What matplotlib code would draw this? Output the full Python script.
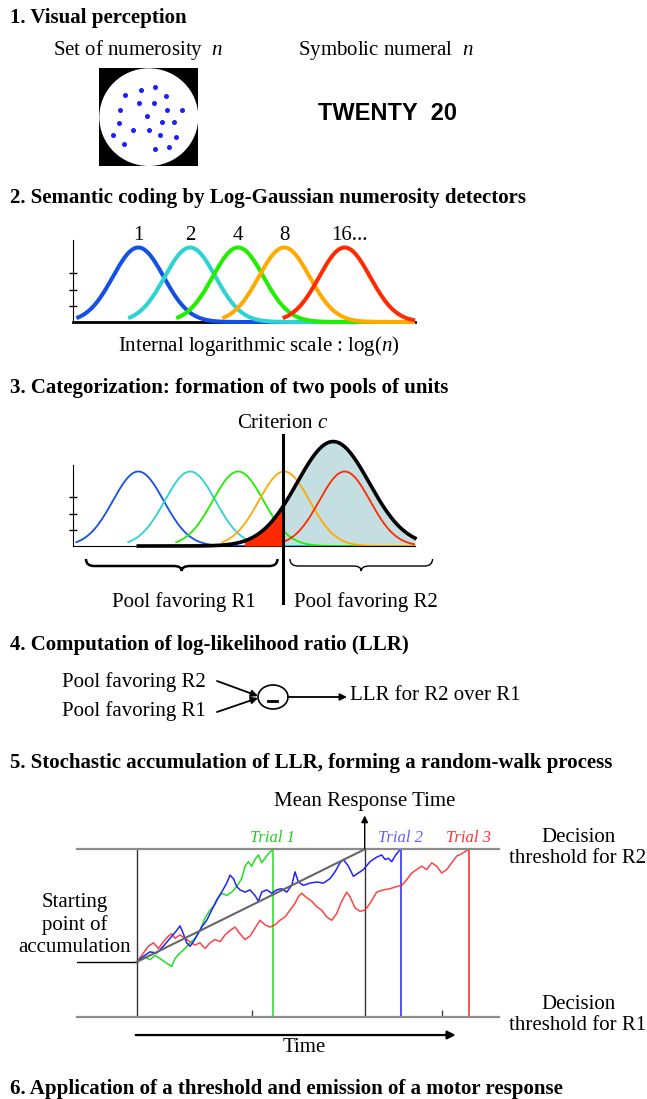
import numpy as np
import matplotlib.pyplot as plt
from matplotlib.patches import Ellipse, PathPatch
from matplotlib.path import Path
from matplotlib.transforms import blended_transform_factory

plt.rcParams['font.family'] = ['Liberation Serif', 'DejaVu Serif']
plt.rcParams['mathtext.fontset'] = 'custom'
plt.rcParams['mathtext.rm'] = 'Liberation Serif'
plt.rcParams['mathtext.it'] = 'Liberation Serif:italic'

W, H = 647, 1099
FS = 15

# panel 1: dots of the numerosity display (percent of the stimulus box)
dot_x = [56.3, 42.1, 26.3, 67.7, 40.4, 54.9, 21.2, 68.4, 83.8, 48.5, 20.2,
         63.3, 75.8, 34.3, 50.2, 13.8, 61.0, 77.2, 25.3, 56.3, 70.4]
dot_y = [81.2, 78.2, 73.1, 71.7, 64.2, 64.6, 57.5, 57.1, 57.1, 50.7, 43.7,
         45.0, 44.7, 36.8, 36.5, 31.7, 31.7, 29.7, 22.2, 17.1, 19.1]

# panels 2-3: log-gaussian detectors on the internal log scale
det_labels = ['1', '2', '4', '8', '16...']
det_centers = [0.0, 1.08, 2.08, 3.04, 4.3]
det_colors = ['#1450e6', '#2dd2d2', '#22ee00', '#ffaa00', '#ff2a00']
det_sigma = 0.53
det_peak = 0.92
det_span = 1.29          # how far left of its peak each curve starts
scale_max = 5.765
criterion = 3.02
r2_center, r2_sigma, r2_peak = 4.06, 0.75, 1.29

# panel 5: random walks of accumulated LLR (0 = start, 1 = upper threshold)
lower_bound = -0.488
rt_mean = 22.8
trial_rt = [13.6, 26.4, 33.2]
trial_colors = ['#22dd22', '#2222ff', '#ff2222']
label_colors = ['#22cc22', '#6060ff', '#ff3030']
t1_t = [0, 0.67, 1.33, 1.83, 2.5, 3.0, 3.5, 3.83, 4.33, 4.83, 5.33, 5.83, 6.33,
        6.83, 7.33, 7.83, 8.17, 8.5, 9.0, 9.5, 10.0, 10.5, 10.83, 11.17, 11.5,
        11.83, 12.17, 12.5, 12.83, 13.17, 13.6]
t1_e = [0, 0.05, 0.02, 0.06, 0.02, -0.01, -0.04, 0.03, 0.08, 0.12, 0.17, 0.21,
        0.28, 0.39, 0.46, 0.51, 0.57, 0.61, 0.59, 0.62, 0.67, 0.74, 0.85, 0.89,
        0.85, 0.91, 0.95, 0.88, 0.92, 0.96, 1.0]
t2_t = [0, 0.67, 1.33, 2.0, 2.67, 3.33, 4.0, 4.33, 4.67, 5.0, 5.33, 5.67, 6.0,
        6.5, 7.0, 7.5, 8.0, 8.5, 9.0, 9.33, 9.67, 10.0, 10.33, 10.83, 11.33,
        11.83, 12.17, 12.5, 13.0, 13.5, 14.0, 14.5, 15.0, 15.5, 15.83, 16.17,
        16.67, 17.33, 18.0, 18.67, 19.33, 19.83, 20.33, 20.67, 21.17, 21.67,
        22.17, 22.67, 23.33, 24.0, 24.5, 24.83, 25.17, 25.5, 25.83, 26.17, 26.4]
t2_e = [0, 0.05, 0.09, 0.08, 0.14, 0.21, 0.28, 0.32, 0.25, 0.17, 0.14, 0.18,
        0.23, 0.31, 0.37, 0.46, 0.55, 0.62, 0.70, 0.77, 0.74, 0.67, 0.64, 0.62,
        0.64, 0.59, 0.54, 0.62, 0.64, 0.61, 0.64, 0.65, 0.62, 0.68, 0.80, 0.71,
        0.68, 0.70, 0.71, 0.70, 0.74, 0.80, 0.88, 0.91, 0.85, 0.76, 0.79, 0.82,
        0.89, 0.93, 0.95, 0.91, 0.92, 0.89, 0.94, 0.98, 1.0]
t3_t = [0, 0.67, 1.17, 1.67, 2.17, 2.67, 3.17, 3.5, 3.83, 4.33, 4.83, 5.33,
        5.83, 6.33, 6.83, 7.33, 7.83, 8.33, 8.83, 9.33, 9.83, 10.33, 10.83,
        11.33, 11.83, 12.33, 12.83, 13.33, 13.83, 14.33, 14.83, 15.33, 15.83,
        16.17, 16.5, 17.0, 17.5, 18.0, 18.5, 19.0, 19.5, 20.0, 20.5, 21.0,
        21.33, 21.83, 22.33, 22.83, 23.33, 24.0, 24.67, 25.33, 26.0, 26.5,
        27.0, 27.5, 28.0, 28.5, 29.0, 29.5, 30.0, 30.5, 31.0, 31.5, 32.0, 32.5,
        32.83, 33.2]
t3_e = [0, 0.08, 0.14, 0.17, 0.12, 0.18, 0.23, 0.25, 0.21, 0.24, 0.21, 0.18,
        0.15, 0.17, 0.12, 0.17, 0.20, 0.18, 0.24, 0.28, 0.31, 0.25, 0.20, 0.23,
        0.30, 0.37, 0.33, 0.31, 0.33, 0.37, 0.40, 0.46, 0.52, 0.58, 0.61, 0.57,
        0.54, 0.49, 0.46, 0.40, 0.37, 0.43, 0.54, 0.62, 0.58, 0.48, 0.45, 0.46,
        0.52, 0.62, 0.64, 0.65, 0.67, 0.68, 0.73, 0.79, 0.82, 0.85, 0.82, 0.88,
        0.85, 0.79, 0.82, 0.88, 0.94, 0.96, 0.98, 1.0]
time_ticks = [11.5, 30.5]

titles = ['1. Visual perception',
          '2. Semantic coding by Log-Gaussian numerosity detectors',
          '3. Categorization: formation of two pools of units',
          '4. Computation of log-likelihood ratio (LLR)',
          '5. Stochastic accumulation of LLR, forming a random-walk process',
          '6. Application of a threshold and emission of a motor response']
title_y = [18, 198, 388, 645, 763, 1089]


def box(left, top, right, bottom):
    return [left / W, 1 - bottom / H, (right - left) / W, (bottom - top) / H]


def gauss(x, c, s, a):
    return a * np.exp(-(x - c) ** 2 / (2 * s ** 2))


def brace(ax, trans, x0, x1, y0, y1, q, lw):
    xc = (x0 + x1) / 2
    ym = (y0 + y1) / 2 + 1
    verts = [(x0, y0), (x0, ym), (x0 + q, ym), (xc - q, ym), (xc, ym),
             (xc, y1), (xc, ym), (xc + q, ym), (x1 - q, ym), (x1, ym),
             (x1, y0)]
    codes = [Path.MOVETO, Path.CURVE3, Path.CURVE3, Path.LINETO, Path.CURVE3,
             Path.CURVE3, Path.CURVE3, Path.CURVE3, Path.LINETO, Path.CURVE3,
             Path.CURVE3]
    ax.add_patch(PathPatch(Path(verts, codes), fc='none', ec='black', lw=lw,
                           transform=trans, clip_on=False))


fig = plt.figure(figsize=(W / 100, H / 100), dpi=100)
ov = fig.add_axes([0, 0, 1, 1])
ov.set_xlim(0, W)
ov.set_ylim(H, 0)
ov.axis('off')

for t, y in zip(titles, title_y):
    ov.text(10, y, t, fontsize=FS, fontweight='bold', va='center')

# ---- 1. visual perception
ov.text(138, 50, 'Set of numerosity  $n$', fontsize=FS, ha='center', va='center')
ov.text(386, 50, 'Symbolic numeral  $n$', fontsize=FS, ha='center', va='center')
ov.text(388, 113, 'TWENTY  20', fontsize=17, fontweight='bold',
        family='Liberation Sans', ha='center', va='center')
ax1 = fig.add_axes(box(99.3, 68.3, 198.3, 166))
ax1.set_facecolor('black')
ax1.set_xlim(0, 100)
ax1.set_ylim(0, 100)
ax1.set_xticks([])
ax1.set_yticks([])
for s in ax1.spines.values():
    s.set_visible(False)
ax1.add_patch(Ellipse((50, 50), 100, 100, fc='white', ec='none'))
ax1.scatter(dot_x, dot_y, s=13, color='#1e1eff', lw=0, zorder=3)


def detector_axes(top, bottom):
    ax = fig.add_axes(box(73.3, top, 415, bottom))
    ax.patch.set_alpha(0)
    ax.set_xlim(-1.354, scale_max)
    ax.set_ylim(0, (bottom - top) / 74.5 * det_peak)
    for k in ['top', 'right']:
        ax.spines[k].set_visible(False)
    ax.set_xticks([])
    ax.set_yticks([0.2, 0.4, 0.6])
    ax.tick_params(axis='y', direction='inout', length=6, width=1,
                   labelleft=False)
    return ax


# ---- 2. semantic coding
ax2 = detector_axes(240, 322)
ax2.spines['bottom'].set_linewidth(2)
tr2 = blended_transform_factory(ax2.transData, ov.transData)
for lab, c, col in zip(det_labels, det_centers, det_colors):
    x = np.linspace(max(c - det_span, -1.32), scale_max, 300)
    ax2.plot(x, gauss(x, c, det_sigma, det_peak), color=col, lw=2.9,
             zorder=3, clip_on=False, solid_capstyle='butt')
    ax2.text(c + (0.1 if lab.endswith('...') else 0), 235, lab, fontsize=FS,
             ha='center', va='center', transform=tr2)
ov.text(259, 346, 'Internal logarithmic scale : log($n$)', fontsize=FS,
        ha='center', va='center')

# ---- 3. categorization
ax3 = detector_axes(465, 546)
tr3 = blended_transform_factory(ax3.transData, ov.transData)
xb = np.linspace(0, scale_max, 500)
yb = gauss(xb, r2_center, r2_sigma, r2_peak)
right = xb >= criterion
ax3.fill_between(xb[right], 0, yb[right], color='#c4dee1', lw=0, zorder=1,
                 clip_on=False)
for c, col in zip(det_centers, det_colors):
    x = np.linspace(c - det_span, scale_max, 300)
    ax3.plot(x, gauss(x, c, det_sigma, det_peak), color=col, lw=1.3, zorder=2)
red = (xb >= 2.2) & (xb <= criterion)
ax3.fill_between(xb[red], 0, yb[red], color='#ff2a00', lw=0, zorder=3)
ax3.plot(xb, yb, color='black', lw=2.6, zorder=4, clip_on=False)
ax3.plot([criterion, criterion], [435, 603], color='black', lw=2.2,
         transform=tr3, clip_on=False, zorder=5)
ax3.text(criterion, 424, 'Criterion $c$', fontsize=FS, ha='center',
         va='center', transform=tr3)
brace(ax3, tr3, -1.09, criterion - 0.12, 559, 571, 0.17, 1.8)
brace(ax3, tr3, criterion + 0.14, 6.13, 559, 571, 0.17, 1.0)
ax3.text((criterion - 0.12 - 1.09) / 2 + 0.05, 602, 'Pool favoring R1',
         fontsize=FS, ha='center', va='center', transform=tr3)
ax3.text((criterion + 0.14 + 6.13) / 2 + 0.1, 602, 'Pool favoring R2',
         fontsize=FS, ha='center', va='center', transform=tr3)

# ---- 4. LLR
ov.text(62, 682, 'Pool favoring R2', fontsize=FS, va='center')
ov.text(62, 711, 'Pool favoring R1', fontsize=FS, va='center')
ov.add_patch(Ellipse((273, 697), 30, 24, fc='white', ec='black', lw=1.2))
ov.plot([268, 277], [701, 701], color='black', lw=2)
arrow = dict(arrowstyle='-|>', color='black', lw=1.3, mutation_scale=10,
             shrinkA=0, shrinkB=0)
ov.annotate('', xy=(258, 696), xytext=(217, 681), arrowprops=arrow)
ov.annotate('', xy=(258, 698), xytext=(217, 712), arrowprops=arrow)
ov.annotate('', xy=(347, 697), xytext=(288, 697), arrowprops=arrow)
ov.text(350, 696, 'LLR for R2 over R1', fontsize=FS, va='center')

# ---- 5. random walk
ax5 = fig.add_axes(box(76.6, 849.3, 499, 1017))
ax5.patch.set_alpha(0)
ax5.set_xlim(-6.01, 36.23)
ax5.set_ylim(lower_bound, 1.0)
for k in ['left', 'right']:
    ax5.spines[k].set_visible(False)
for k in ['top', 'bottom']:
    ax5.spines[k].set_color('#8c8c8c')
    ax5.spines[k].set_linewidth(1.6)
ax5.set_yticks([])
ax5.set_xticks(time_ticks)
ax5.tick_params(axis='x', direction='in', length=5, width=1, color='#444444',
                labelbottom=False)
ax5.vlines([0, rt_mean], lower_bound, 1.0, color='#333333', lw=1)
ax5.plot([-6.01, 0], [0, 0], color='black', lw=1)
for rt, col in zip(trial_rt, trial_colors):
    ax5.vlines(rt, lower_bound, 1.0, color=col, lw=1.1)
ax5.plot([0, rt_mean], [0, 1], color='#666666', lw=1.5, zorder=4)
ax5.plot(t3_t, t3_e, color=trial_colors[2], lw=1.1, alpha=0.85)
ax5.plot(t1_t, t1_e, color=trial_colors[0], lw=1.1)
ax5.plot(t2_t, t2_e, color=trial_colors[1], lw=1.1)
for i, (rt, col) in enumerate(zip(trial_rt, label_colors)):
    ax5.text(rt, 1.10, 'Trial %d' % (i + 1), color=col, style='italic',
             fontsize=12, ha='center', va='center')
ax5.annotate('', xy=(rt_mean, 1.30), xytext=(rt_mean, 1.0),
             arrowprops=dict(arrowstyle='-|>', color='black', lw=1,
                             mutation_scale=10, shrinkA=0, shrinkB=0),
             annotation_clip=False)
ax5.text(rt_mean, 1.42, 'Mean Response Time', fontsize=FS, ha='center',
         va='center')
ax5.annotate('', xy=(31.9, -0.648), xytext=(-0.1, -0.648),
             arrowprops=dict(arrowstyle='-|>', color='black', lw=1.6,
                             mutation_scale=12, shrinkA=0, shrinkB=0),
             annotation_clip=False)
ax5.text(16.8, -0.763, 'Time', fontsize=FS, ha='center', va='center')
ov.text(75, 925, 'Starting\npoint of\naccumulation', fontsize=FS,
        ha='center', va='center', linespacing=1.2)
ov.text(578, 848, 'Decision\nthreshold for R2', fontsize=FS, ha='center',
        va='center', linespacing=1.15)
ov.text(578, 1015, 'Decision\nthreshold for R1', fontsize=FS, ha='center',
        va='center', linespacing=1.15)

fig.savefig('out.png', dpi=100)
